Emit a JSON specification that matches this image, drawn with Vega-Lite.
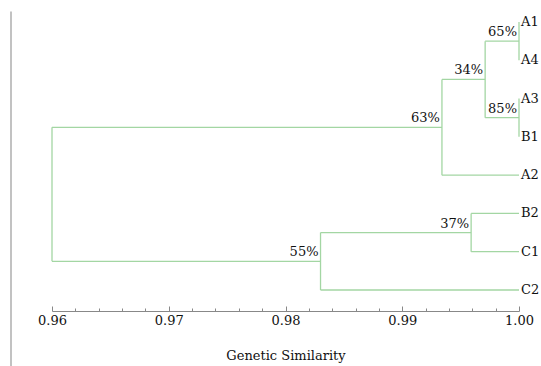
{
  "$schema": "https://vega.github.io/schema/vega-lite/v6.json",
  "width": 467,
  "height": 355,
  "autosize": "none",
  "padding": {"left": 52, "top": 11, "right": 22, "bottom": 0},
  "background": "white",
  "config": {"view": {"stroke": null}, "font": "DejaVu Serif"},
  "datasets": {
    "segments": [
      {"x": 0.96, "x2": 0.96, "y": 2.75, "y2": 6.25},
      {"x": 0.96, "x2": 0.9934, "y": 2.75, "y2": 2.75},
      {"x": 0.96, "x2": 0.983, "y": 6.25, "y2": 6.25},
      {"x": 0.9934, "x2": 0.9934, "y": 1.5, "y2": 4},
      {"x": 0.9934, "x2": 0.9971, "y": 1.5, "y2": 1.5},
      {"x": 0.9934, "x2": 1.0, "y": 4, "y2": 4},
      {"x": 0.9971, "x2": 0.9971, "y": 0.5, "y2": 2.5},
      {"x": 0.9971, "x2": 1.0, "y": 0.5, "y2": 0.5},
      {"x": 0.9971, "x2": 1.0, "y": 2.5, "y2": 2.5},
      {"x": 1.0, "x2": 1.0, "y": 0, "y2": 1},
      {"x": 1.0, "x2": 1.0, "y": 2, "y2": 3},
      {"x": 0.983, "x2": 0.983, "y": 5.5, "y2": 7},
      {"x": 0.983, "x2": 0.9959, "y": 5.5, "y2": 5.5},
      {"x": 0.983, "x2": 1.0, "y": 7, "y2": 7},
      {"x": 0.9959, "x2": 0.9959, "y": 5, "y2": 6},
      {"x": 0.9959, "x2": 1.0, "y": 5, "y2": 5},
      {"x": 0.9959, "x2": 1.0, "y": 6, "y2": 6}
    ],
    "nodes": [
      {"x": 1.0, "y": 0.5, "support": "65%"},
      {"x": 1.0, "y": 2.5, "support": "85%"},
      {"x": 0.9971, "y": 1.5, "support": "34%"},
      {"x": 0.9934, "y": 2.75, "support": "63%"},
      {"x": 0.9959, "y": 5.5, "support": "37%"},
      {"x": 0.983, "y": 6.25, "support": "55%"}
    ],
    "leaves": [
      {"name": "A1", "x": 1.0, "y": 0},
      {"name": "A4", "x": 1.0, "y": 1},
      {"name": "A3", "x": 1.0, "y": 2},
      {"name": "B1", "x": 1.0, "y": 3},
      {"name": "A2", "x": 1.0, "y": 4},
      {"name": "B2", "x": 1.0, "y": 5},
      {"name": "C1", "x": 1.0, "y": 6},
      {"name": "C2", "x": 1.0, "y": 7}
    ]
  },
  "resolve": {"axis": {"x": "independent", "y": "independent"}},
  "layer": [
    {
      "data": {"name": "segments"},
      "mark": {"type": "rule", "color": "#a3d6a3", "strokeWidth": 1.3},
      "encoding": {
        "x": {
          "field": "x",
          "type": "quantitative",
          "scale": {"domain": [0.96, 1.0], "nice": false, "zero": false},
          "axis": {
            "title": "Genetic Similarity",
            "orient": "bottom",
            "offset": -55,
            "grid": false,
            "values": [0.96, 0.97, 0.98, 0.99, 1.0],
            "format": ".2f",
            "labelOverlap": false,
            "tickSize": -5,
            "tickColor": "#888888",
            "domainColor": "#888888",
            "labelFont": "DejaVu Serif",
            "labelFontSize": 13,
            "labelColor": "#111111",
            "labelPadding": 8,
            "labelFlush": false,
            "titleFont": "DejaVu Serif",
            "titleFontSize": 13,
            "titleFontWeight": "normal",
            "titleColor": "#111111",
            "titlePadding": 22
          }
        },
        "x2": {"field": "x2"},
        "y": {
          "field": "y",
          "type": "quantitative",
          "scale": {"domain": [-0.287, 8.985], "reverse": true, "nice": false, "zero": false},
          "axis": {
            "orient": "left",
            "offset": 41.5,
            "domain": true,
            "domainColor": "#999999",
            "domainWidth": 1.2,
            "ticks": false,
            "labels": false,
            "grid": false,
            "title": null
          }
        },
        "y2": {"field": "y2"}
      }
    },
    {
      "data": {"name": "nodes"},
      "mark": {"type": "text", "align": "right", "baseline": "bottom", "dx": -2, "dy": -2, "fontSize": 13, "font": "DejaVu Serif", "color": "#111111"},
      "encoding": {
        "x": {
          "field": "x",
          "type": "quantitative",
          "axis": {
            "orient": "bottom",
            "offset": -55,
            "title": null,
            "grid": false,
            "domain": false,
            "labels": false,
            "values": [0.962, 0.964, 0.966, 0.968, 0.972, 0.974, 0.976, 0.978, 0.982, 0.984, 0.986, 0.988, 0.992, 0.994, 0.996, 0.998],
            "tickSize": -3,
            "tickColor": "#888888"
          }
        },
        "y": {"field": "y", "type": "quantitative", "axis": null},
        "text": {"field": "support"}
      }
    },
    {
      "data": {"name": "leaves"},
      "mark": {"type": "text", "align": "left", "baseline": "middle", "dx": 2, "fontSize": 13, "font": "DejaVu Serif", "color": "#111111"},
      "encoding": {
        "x": {"field": "x", "type": "quantitative", "axis": null},
        "y": {"field": "y", "type": "quantitative", "axis": null},
        "text": {"field": "name"}
      }
    }
  ]
}
